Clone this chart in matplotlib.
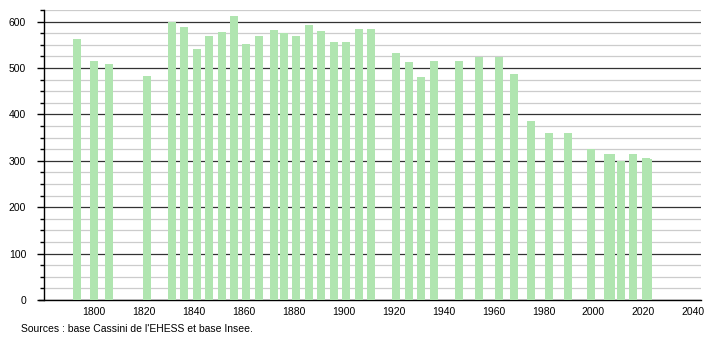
import matplotlib.pyplot as plt
from matplotlib.ticker import MultipleLocator

years = [1793, 1800, 1806, 1821, 1831, 1836, 1841, 1846, 1851, 1856,
         1861, 1866, 1872, 1876, 1881, 1886, 1891, 1896, 1901, 1906,
         1911, 1921, 1926, 1931, 1936, 1946, 1954, 1962, 1968, 1975,
         1982, 1990, 1999, 2006, 2007, 2011, 2016, 2021, 2022]
population = [562, 516, 508, 482, 600, 588, 542, 570, 577, 611,
              551, 568, 581, 575, 568, 592, 579, 557, 557, 585,
              583, 533, 512, 480, 516, 516, 523, 523, 486, 385,
              361, 359, 326, 315, 315, 300, 315, 307, 303]
xticks = list(range(1800, 2041, 20))
source = "Sources : base Cassini de l'EHESS et base Insee."

plt.rcParams['font.family'] = ['Liberation Sans', 'DejaVu Sans']

fig = plt.figure(figsize=(7.1, 3.4), dpi=100)
ax = fig.add_axes([0.0624, 0.1176, 0.9246, 0.853])

ax.bar(years, population, width=3.2, color='#b0e5b0', zorder=3)

ax.set_xlim(1780, 2043)
ax.set_ylim(0, 625)
ax.set_xticks(xticks)
ax.yaxis.set_major_locator(MultipleLocator(100))
ax.yaxis.set_minor_locator(MultipleLocator(25))
ax.grid(axis='y', which='major', color='#333333', linewidth=0.9, zorder=1)
ax.grid(axis='y', which='minor', color='#cccccc', linewidth=0.9, zorder=1)
ax.set_axisbelow(True)

for side in ['top', 'right']:
    ax.spines[side].set_visible(False)
ax.spines['left'].set_linewidth(1.0)
ax.spines['bottom'].set_linewidth(1.0)
ax.spines['bottom'].set_bounds(1778, 2043)

ax.tick_params(axis='x', length=0, labelsize=7.5, pad=5)
ax.tick_params(axis='y', which='major', length=5, width=1, labelsize=7.5, pad=8)
ax.tick_params(axis='y', which='minor', length=3, width=1)

fig.text(0.029, 0.032, source, fontsize=7.5, va='center', ha='left')

fig.savefig('out.png', dpi=100)
